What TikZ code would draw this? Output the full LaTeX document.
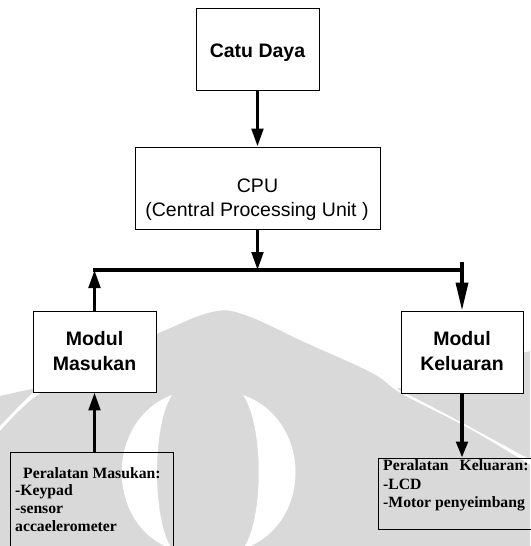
\documentclass[tikz,border=0pt]{standalone}
\usepackage{fontspec}
\setmainfont{Liberation Serif}
\setsansfont{Liberation Sans}
\usetikzlibrary{arrows.meta}
\definecolor{wm}{RGB}{217,217,217}
\begin{document}
\begin{tikzpicture}[x=1pt,y=-1pt,
  box/.style={draw=black, line width=0.9pt, inner sep=0pt, rectangle},
  wbox/.style={box, fill=white},
  sansb/.style={font=\sffamily\bfseries\fontsize{19.5}{22}\selectfont, anchor=base, inner sep=0pt},
  sansr/.style={font=\sffamily\fontsize{19.5}{22}\selectfont, anchor=base, inner sep=0pt},
  serifb/.style={font=\rmfamily\bfseries\fontsize{15.7}{18}\selectfont, anchor=base west, inner sep=0pt},
  conn/.style={line width=3.5pt, -{Triangle[width=11.5pt,length=18pt]}},
  bus/.style={line width=3.5pt},
]
\useasboundingbox (0,0) rectangle (530,546);
\fill[white] (0,0) rectangle (530,546);
% watermark
\begin{scope}
\clip (0,0) rectangle (530,546);
\fill[wm] plot[smooth, tension=0.6] coordinates {(-5,437) (35,397) (100,360) (159,333) (212,312) (245,315) (304,342) (372,373) (402,394) (470,429) (535,468)} -- (535,550) -- (-5,550) -- cycle;
\fill[wm] (397,389) .. controls (440,376) and (490,360) .. (535,350) -- (535,462) .. controls (490,438) and (440,410) .. (397,389) -- cycle;
\fill[wm] (38,388) .. controls (25,390) and (10,394) .. (-5,397) -- (-5,431) .. controls (8,418) and (22,402) .. (38,388) -- cycle;
\fill[white] (172,395) .. controls (105,420) and (105,525) .. (172,549) .. controls (152,520) and (152,425) .. (172,395) -- cycle;
\fill[white] (243,395) .. controls (313,420) and (313,525) .. (243,549) .. controls (264,520) and (264,425) .. (243,395) -- cycle;
\end{scope}

% boxes
\node[wbox, minimum width=123pt, minimum height=82pt] (catu) at (257.5,49) {};
\node[wbox, minimum width=245pt, minimum height=82pt] (cpu) at (257.5,188) {};
\node[wbox, minimum width=123pt, minimum height=81pt] (masukan) at (94.5,351.5) {};
\node[wbox, minimum width=122pt, minimum height=82pt] (keluaran) at (462,352) {};
\node[box, minimum width=163pt, minimum height=108pt] (pmasuk) at (91.5,506) {};
\node[box, minimum width=162pt, minimum height=71pt] (pkeluar) at (459,493.5) {};

% texts
\node[sansb] (catut) at (257.5,57.3) {Catu Daya};
\node[sansr] (cput1) at (257.5,192) {CPU};
\node[sansr] (cput2) at (257,216.5) {(Central Processing Unit )};
\node[sansb] (mast1) at (94.5,345) {Modul};
\node[sansb] (mast2) at (94.5,370) {Masukan};
\node[sansb] (kelt1) at (462,345) {Modul};
\node[sansb] (kelt2) at (462,370) {Keluaran};
\node[serifb] (pm1) at (23,478) {Peralatan Masukan:};
\node[serifb] (pm2) at (15,495.5) {-Keypad};
\node[serifb] (pm3) at (15,513.5) {-sensor};
\node[serifb] (pm4) at (15,531.5) {accaelerometer};
\node[serifb] (pk1) at (383,470.5) {Peralatan\hspace{11pt}Keluaran:};
\node[serifb] (pk2) at (383,489) {-LCD};
\node[serifb] (pk3) at (383,507.5) {-Motor penyeimbang};

% bus and connectors
\coordinate (busL) at (93,270);
\coordinate (busM) at (257.5,270);
\coordinate (busR) at (462,270);
\coordinate (tickT) at (462,262);
\coordinate (mup) at (94.5,270);
\draw[bus] (busL) -- (busR);
\draw[conn] (catu.south) -- (cpu.north);
\draw[conn] (cpu.south) -- (busM);
\draw[conn] (masukan.north) -- (mup);
\draw[conn] (pmasuk.north -| masukan.south) -- (masukan.south);
\draw[line width=3.5pt, -{Triangle[width=12pt,length=28pt]}] (tickT) -- (keluaran.north);
\draw[conn, -{Triangle[width=11.5pt,length=16pt]}] (keluaran.south) -- (keluaran.south |- pkeluar.north);
\end{tikzpicture}
\end{document}
